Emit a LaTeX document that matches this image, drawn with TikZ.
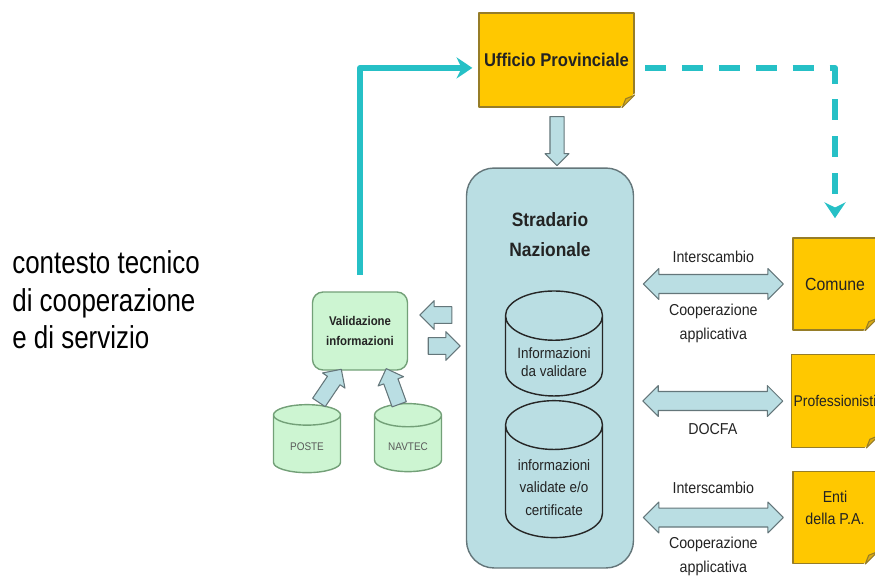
\documentclass[tikz,border=0pt]{standalone}
\usepackage{fontspec}
\setmainfont{Liberation Sans}[FakeStretch=0.9]
\newfontfamily\narrowfont{Liberation Sans}[FakeStretch=0.82]
\usetikzlibrary{shapes.geometric,shapes.arrows,arrows.meta,positioning,calc}

\definecolor{notefill}{RGB}{255,200,0}
\definecolor{noteborder}{RGB}{150,125,40}
\definecolor{notefold}{RGB}{220,172,20}
\definecolor{dbfill}{RGB}{186,222,227}
\definecolor{dbborder}{RGB}{100,118,122}
\definecolor{valfill}{RGB}{205,245,210}
\definecolor{valborder}{RGB}{115,160,120}
\definecolor{flow}{RGB}{38,192,198}
\definecolor{ink}{RGB}{35,35,35}

\tikzset{
	note/.style={draw=noteborder, fill=notefill, line width=0.6pt, text=ink, inner sep=1pt},
	db/.style={cylinder, shape border rotate=90, draw=black!85, fill=dbfill, line width=0.8pt, text=ink, align=center},
	srcdb/.style={cylinder, shape border rotate=90, draw=valborder, fill=valfill, line width=0.8pt, text=black!65, aspect=0.45,
		minimum width=1.34cm, minimum height=1.36cm, font=\fontsize{6.3}{7}\selectfont},
	blk/.style={single arrow, draw=dbborder, fill=dbfill, line width=0.6pt, inner sep=0pt, single arrow head extend=3.4pt},
	dblk/.style={double arrow, draw=dbborder, fill=dbfill, line width=0.6pt, inner sep=0pt, inner ysep=5.1pt,
		double arrow head extend=3.4pt, minimum height=2.8cm},
	lbl/.style={text=ink, align=center, font=\fontsize{9}{13.5}\selectfont},
	flowline/.style={draw=flow, line width=3.4pt, -{Stealth[length=9pt,width=12pt]}},
}

\begin{document}
\begin{tikzpicture}[x=0.02cm, y=-0.02cm, line join=round]
	\useasboundingbox (0,0) rectangle (875,576);
	\clip (0,0) rectangle (875,576);

	% testo a sinistra
	\node[anchor=north west, inner sep=0pt, align=left, text=black, font=\narrowfont\fontsize{18}{21.5}\selectfont] (ctx) at (12,250)
		{contesto tecnico\\di cooperazione\\e di servizio};

	% ufficio e stradario
	\node[note, minimum width=3.1cm, minimum height=1.88cm, font=\bfseries\fontsize{10.5}{12}\selectfont] (uff) at (556.5,60) {Ufficio Provinciale};
	\node[draw=dbborder, fill=dbfill, line width=0.8pt, rounded corners=0.55cm, minimum width=3.34cm, minimum height=8cm] (strad) at (550,368) {};
	\node[text=ink, align=center, font=\bfseries\fontsize{11}{17}\selectfont] (stradlbl) at (550,235) {Stradario\\Nazionale};
	\node[db, aspect=0.58, minimum width=1.94cm, minimum height=2.74cm, font=\fontsize{8.5}{13}\selectfont] (datiB) at (554,487.5)
		{informazioni\\validate e/o\\certificate};
	\node[db, aspect=0.58, minimum width=1.94cm, minimum height=2.1cm, font=\fontsize{8.5}{10.5}\selectfont] (datiA) at (554,362)
		{Informazioni\\da validare};
	\node[blk, rotate=-90, inner ysep=3.7pt, single arrow head extend=2.8pt, minimum height=0.98cm] (down) at (557,137.5) {};

	% validazione e fonti
	\node[draw=valborder, fill=valfill, line width=0.8pt, rounded corners=6pt, minimum width=1.9cm, minimum height=1.56cm,
		text=ink, align=center, font=\bfseries\fontsize{7.2}{11}\selectfont] (val) at (360,331) {Validazione\\informazioni};
	\node[srcdb] (poste) at (307,447) {POSTE};
	\node[srcdb] (navtec) at (408,447) {NAVTEC};
	\node[blk, rotate=56, inner ysep=4pt, minimum height=0.8cm] (pv) at (328,389) {};
	\node[blk, rotate=110, inner ysep=4pt, minimum height=0.76cm] (nv) at (394,390) {};
	\node[blk, rotate=180, inner ysep=4.5pt, minimum height=0.64cm] (sv) at (440,315) {};
	\node[blk, inner ysep=4.5pt, minimum height=0.64cm] (vs) at (440,346) {};

	% destinatari
	\node[note, minimum width=1.68cm, minimum height=1.84cm, font=\fontsize{10}{12}\selectfont] (com) at (835,284) {Comune};
	\node[note, minimum width=1.68cm, minimum height=1.86cm, font=\fontsize{8.8}{10}\selectfont] (pro) at (835,401) {Professionisti};
	\node[note, minimum width=1.68cm, minimum height=1.84cm] (enti) at (835,517.5) {};
	\node[text=ink, align=center, font=\fontsize{9}{12}\selectfont] (entilbl) at ([yshift=5.5pt]enti.center) {Enti\\della P.A.};
	\foreach \n in {uff,com,pro,enti}{
		\fill[white] ([xshift=-8pt]\n.south east) -- ([xshift=1pt,yshift=-1pt]\n.south east) -- ([yshift=8pt]\n.south east) -- cycle;
		\filldraw[draw=noteborder, fill=notefold, line width=0.6pt] ([xshift=-7pt]\n.south east) -- ([yshift=7pt]\n.south east)
			-- ([xshift=-5pt,yshift=5pt]\n.south east) -- cycle;
	}

	% scambi
	\node[dblk] (a1) at ($(strad.east |- com)!0.5!(com.west)$) {};
	\node[dblk] (a2) at ($(strad.east |- pro)!0.5!(pro.west)$) {};
	\node[dblk] (a3) at ($(strad.east |- enti)!0.5!(enti.west)$) {};
	\node[lbl] (i1) at ([yshift=15.5pt]a1.center) {Interscambio};
	\node[lbl] (c1) at ([yshift=-22.5pt]a1.center) {Cooperazione\\applicativa};
	\node[lbl] (d2) at ([yshift=-16pt]a2.center) {DOCFA};
	\node[lbl] (i3) at ([yshift=17pt]a3.center) {Interscambio};
	\node[lbl] (c3) at ([yshift=-22pt]a3.center) {Cooperazione\\applicativa};

	% flussi
	\draw[flowline, shorten <=9.5pt, shorten >=3.5pt] (val.north) |- ([yshift=-4.5pt]uff.west);
	\draw[flowline, dash pattern=on 12pt off 9pt, shorten <=6pt, shorten >=11pt] ([yshift=-4.5pt]uff.east) -| (com.north);
\end{tikzpicture}
\end{document}
